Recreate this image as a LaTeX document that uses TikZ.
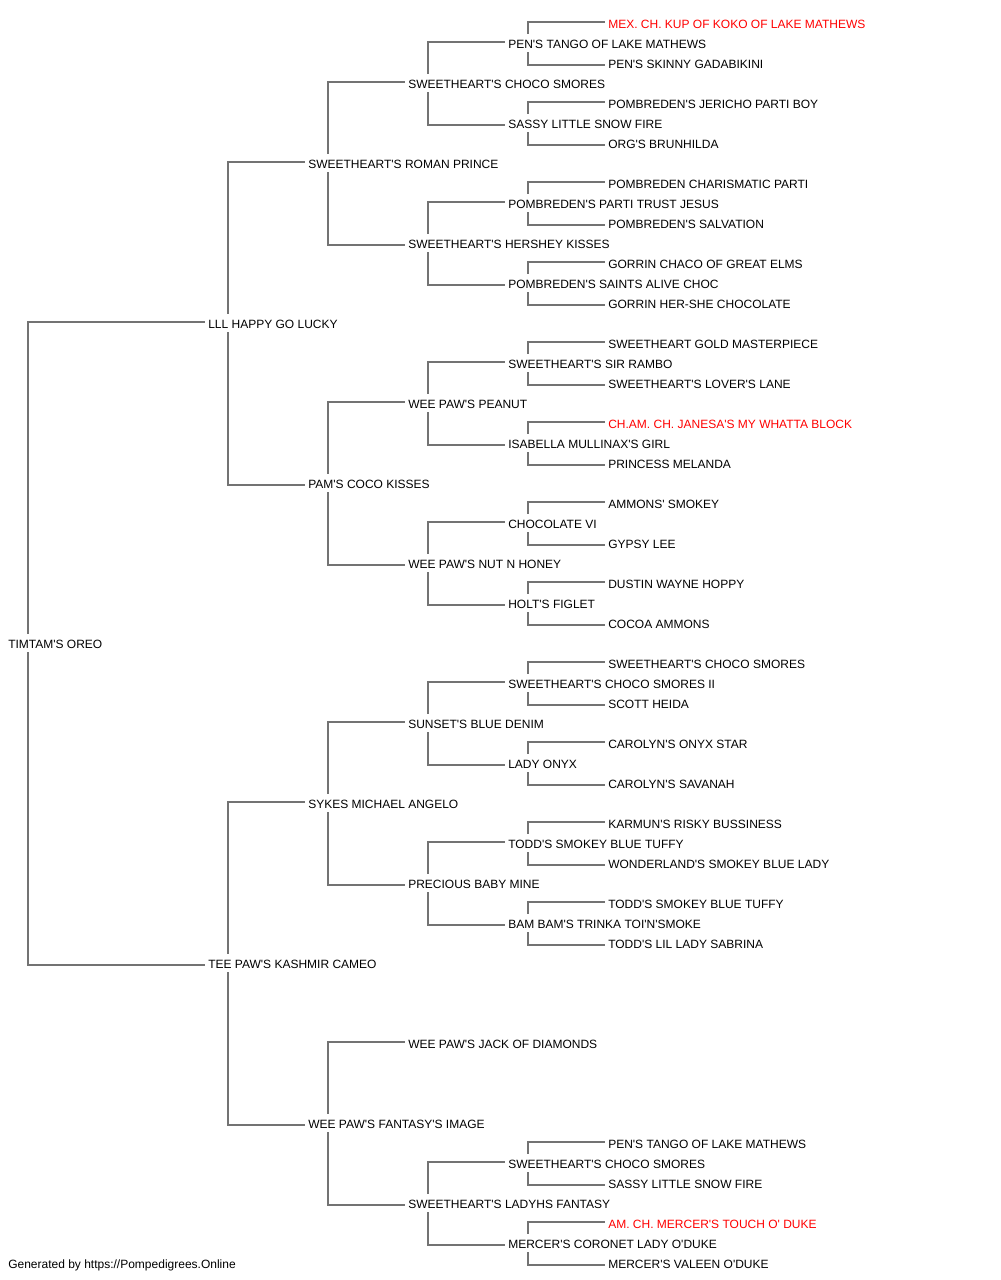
\documentclass[tikz,border=0pt]{standalone}
\usepackage{fontspec}
\setmainfont[Ligatures=TeXOff]{Liberation Sans}
\usetikzlibrary{positioning}
\tikzset{%
  dog/.style={anchor=west, inner xsep=2.25pt, inner ysep=2.25pt, text height=8.5pt, text depth=0.5pt, font=\fontsize{9}{11}\selectfont},
  champ/.style={dog, text=red},
  line/.style={draw, color=black!55, line width=1.2pt},
}
\newcommand{\sire}[2]{%
  \path [line] ([xshift=17.25pt]#1.north west) |- ([yshift=0.75pt]#2.west);}
\newcommand{\dam}[2]{%
  \path [line] ([xshift=17.25pt]#1.south west) |- ([yshift=-1.5pt]#2.west);}

\begin{document}
\begin{tikzpicture}[x=0.75pt, y=-0.75pt]
  \useasboundingbox (0,0) rectangle (1000,1280);

  % generations 1 to 3
  \node (oreo) [dog] at (5,643) {TIMTAM'S OREO};
  \node (lucky) [dog] at (205,323) {LLL HAPPY GO LUCKY};
  \node (cameo) [dog] at (205,963) {TEE PAW'S KASHMIR CAMEO};
  \node (roman) [dog] at (305,163) {SWEETHEART'S ROMAN PRINCE};
  \node (coco) [dog] at (305,483) {PAM'S COCO KISSES};
  \node (sykes) [dog] at (305,803) {SYKES MICHAEL ANGELO};
  \node (fantasy) [dog] at (305,1123) {WEE PAW'S FANTASY'S IMAGE};

  % generation 4
  \node (smores) [dog] at (405,83) {SWEETHEART'S CHOCO SMORES};
  \node (hershey) [dog] at (405,243) {SWEETHEART'S HERSHEY KISSES};
  \node (peanut) [dog] at (405,403) {WEE PAW'S PEANUT};
  \node (honey) [dog] at (405,563) {WEE PAW'S NUT N HONEY};
  \node (denim) [dog] at (405,723) {SUNSET'S BLUE DENIM};
  \node (baby) [dog] at (405,883) {PRECIOUS BABY MINE};
  \node (jack) [dog] at (405,1043) {WEE PAW'S JACK OF DIAMONDS};
  \node (ladyhs) [dog] at (405,1203) {SWEETHEART'S LADYHS FANTASY};

  % generation 5
  \node (tango) [dog] at (505,43) {PEN'S TANGO OF LAKE MATHEWS};
  \node (sassy) [dog] at (505,123) {SASSY LITTLE SNOW FIRE};
  \node (trust) [dog] at (505,203) {POMBREDEN'S PARTI TRUST JESUS};
  \node (saints) [dog] at (505,283) {POMBREDEN'S SAINTS ALIVE CHOC};
  \node (rambo) [dog] at (505,363) {SWEETHEART'S SIR RAMBO};
  \node (isabella) [dog] at (505,443) {ISABELLA MULLINAX'S GIRL};
  \node (chocvi) [dog] at (505,523) {CHOCOLATE VI};
  \node (figlet) [dog] at (505,603) {HOLT'S FIGLET};
  \node (smoresii) [dog] at (505,683) {SWEETHEART'S CHOCO SMORES II};
  \node (onyx) [dog] at (505,763) {LADY ONYX};
  \node (tuffy) [dog] at (505,843) {TODD'S SMOKEY BLUE TUFFY};
  \node (bambam) [dog] at (505,923) {BAM BAM'S TRINKA TOI'N'SMOKE};
  \node (smoresb) [dog] at (505,1163) {SWEETHEART'S CHOCO SMORES};
  \node (coronet) [dog] at (505,1243) {MERCER'S CORONET LADY O'DUKE};

  % generation 6
  \node (kup) [champ] at (605,23) {MEX. CH. KUP OF KOKO OF LAKE MATHEWS};
  \node (skinny) [dog] at (605,63) {PEN'S SKINNY GADABIKINI};
  \node (jericho) [dog] at (605,103) {POMBREDEN'S JERICHO PARTI BOY};
  \node (brunhilda) [dog] at (605,143) {ORG'S BRUNHILDA};
  \node (charis) [dog] at (605,183) {POMBREDEN CHARISMATIC PARTI};
  \node (salvation) [dog] at (605,223) {POMBREDEN'S SALVATION};
  \node (gorrin) [dog] at (605,263) {GORRIN CHACO OF GREAT ELMS};
  \node (hershe) [dog] at (605,303) {GORRIN HER-SHE CHOCOLATE};
  \node (gold) [dog] at (605,343) {SWEETHEART GOLD MASTERPIECE};
  \node (lover) [dog] at (605,383) {SWEETHEART'S LOVER'S LANE};
  \node (janesa) [champ] at (605,423) {CH.AM. CH. JANESA'S MY WHATTA BLOCK};
  \node (melanda) [dog] at (605,463) {PRINCESS MELANDA};
  \node (ammons) [dog] at (605,503) {AMMONS' SMOKEY};
  \node (gypsy) [dog] at (605,543) {GYPSY LEE};
  \node (dustin) [dog] at (605,583) {DUSTIN WAYNE HOPPY};
  \node (cocoa) [dog] at (605,623) {COCOA AMMONS};
  \node (smoresc) [dog] at (605,663) {SWEETHEART'S CHOCO SMORES};
  \node (heida) [dog] at (605,703) {SCOTT HEIDA};
  \node (onyxstar) [dog] at (605,743) {CAROLYN'S ONYX STAR};
  \node (savanah) [dog] at (605,783) {CAROLYN'S SAVANAH};
  \node (karmun) [dog] at (605,823) {KARMUN'S RISKY BUSSINESS};
  \node (wonder) [dog] at (605,863) {WONDERLAND'S SMOKEY BLUE LADY};
  \node (tuffyb) [dog] at (605,903) {TODD'S SMOKEY BLUE TUFFY};
  \node (sabrina) [dog] at (605,943) {TODD'S LIL LADY SABRINA};
  \node (tangob) [dog] at (605,1143) {PEN'S TANGO OF LAKE MATHEWS};
  \node (sassyb) [dog] at (605,1183) {SASSY LITTLE SNOW FIRE};
  \node (mercer) [champ] at (605,1223) {AM. CH. MERCER'S TOUCH O' DUKE};
  \node (valeen) [dog] at (605,1263) {MERCER'S VALEEN O'DUKE};

  \node (credit) [dog] at (5,1263) {Generated by https://Pompedigrees.Online};

  % links
  \sire{oreo}{lucky}      \dam{oreo}{cameo}
  \sire{lucky}{roman}     \dam{lucky}{coco}
  \sire{cameo}{sykes}     \dam{cameo}{fantasy}
  \sire{roman}{smores}    \dam{roman}{hershey}
  \sire{coco}{peanut}     \dam{coco}{honey}
  \sire{sykes}{denim}     \dam{sykes}{baby}
  \sire{fantasy}{jack}    \dam{fantasy}{ladyhs}
  \sire{smores}{tango}    \dam{smores}{sassy}
  \sire{hershey}{trust}   \dam{hershey}{saints}
  \sire{peanut}{rambo}    \dam{peanut}{isabella}
  \sire{honey}{chocvi}    \dam{honey}{figlet}
  \sire{denim}{smoresii}  \dam{denim}{onyx}
  \sire{baby}{tuffy}      \dam{baby}{bambam}
  \sire{ladyhs}{smoresb}  \dam{ladyhs}{coronet}
  \sire{tango}{kup}       \dam{tango}{skinny}
  \sire{sassy}{jericho}   \dam{sassy}{brunhilda}
  \sire{trust}{charis}    \dam{trust}{salvation}
  \sire{saints}{gorrin}   \dam{saints}{hershe}
  \sire{rambo}{gold}      \dam{rambo}{lover}
  \sire{isabella}{janesa} \dam{isabella}{melanda}
  \sire{chocvi}{ammons}   \dam{chocvi}{gypsy}
  \sire{figlet}{dustin}   \dam{figlet}{cocoa}
  \sire{smoresii}{smoresc} \dam{smoresii}{heida}
  \sire{onyx}{onyxstar}   \dam{onyx}{savanah}
  \sire{tuffy}{karmun}    \dam{tuffy}{wonder}
  \sire{bambam}{tuffyb}   \dam{bambam}{sabrina}
  \sire{smoresb}{tangob}  \dam{smoresb}{sassyb}
  \sire{coronet}{mercer}  \dam{coronet}{valeen}
\end{tikzpicture}
\end{document}
